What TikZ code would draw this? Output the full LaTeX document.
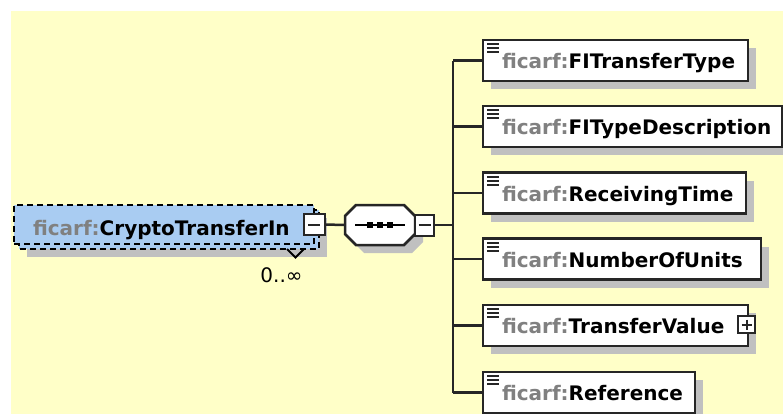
\documentclass[tikz,border=0pt]{standalone}
\usepackage{fontspec}
\setmainfont{DejaVu Sans}
\usetikzlibrary{calc,shadows}

\newdimen\px \px=0.75pt
\definecolor{bgyellow}{HTML}{FFFFC8}
\definecolor{elemblue}{HTML}{A9CCF2}
\definecolor{shadowgray}{HTML}{C0C0C0}
\definecolor{prefixgray}{HTML}{808080}
\definecolor{linegray}{HTML}{262626}
\newcommand{\pfx}{\textcolor{prefixgray}{ficarf:}}

\tikzset{
  conn/.style={draw=linegray, line width=2.5\px},
  elem/.style={draw=linegray, line width=2.5\px, fill=white, anchor=west,
    inner sep=0pt, outer sep=0pt, minimum height=41\px, text width=#1, align=left,
    text height=16.5\px, text depth=0.5\px,
    font=\fontsize{20\px}{23\px}\selectfont\bfseries,
    drop shadow={shadow xshift=8\px, shadow yshift=-8\px, fill=shadowgray, opacity=1}},
  mainbox/.style={draw=black, line width=2.5\px, dash pattern=on 6\px off 4\px,
    fill=elemblue, inner sep=0pt, outer sep=0pt, minimum height=39\px,
    text width=300\px, align=left, text height=21.5\px, text depth=0.5\px,
    font=\fontsize{20\px}{23\px}\selectfont\bfseries},
  togglebox/.style={draw=linegray, fill=white, line width=2\px,
    minimum width=21\px, minimum height=21\px, inner sep=0pt, outer sep=0pt},
  minusbox/.style={togglebox,
    path picture={\draw[line width=2\px]
      ($(path picture bounding box.center)+(-6,0)$) -- ($(path picture bounding box.center)+(6,0)$);}},
  plusbox/.style={togglebox, minimum width=17\px, minimum height=17\px,
    path picture={\draw[line width=2\px]
      ($(path picture bounding box.center)+(-5,0)$) -- ($(path picture bounding box.center)+(5,0)$)
      ($(path picture bounding box.center)+(0,-5)$) -- ($(path picture bounding box.center)+(0,5)$);}},
  iconline/.style={draw=linegray, line width=2\px}
}

\begin{document}
\begin{tikzpicture}[x=0.75pt, y=-0.75pt] % 1 单位 = 1 像素, y 轴向下

    % 1. 背景: 白边和浅黄色区域
    \useasboundingbox (0,0) rectangle (783,414);
    \fill[white] (0,0) rectangle (783,414);
    \fill[bgyellow] (11,11) rectangle (783,414);

    % 2. 主元素 CryptoTransferIn (0..无穷, 两层虚线框)
    \fill[shadowgray] (27,218) rectangle (327,257);
    \draw[mainbox] (19,210) rectangle (319,249);
    \node[mainbox] (ctin) at (164,224.5) {\hspace*{19\px}\pfx CryptoTransferIn};
    \node[minusbox] (ctinmin) at (ctin.east) {};
    \draw[line width=2\px] (287,249) -- (295.5,257.5) -- (304,249);
    \node[anchor=base, font=\fontsize{20\px}{23\px}\selectfont] (occ) at (281.5,282) {0..∞};

    % 3. sequence 组合符 (八边形)
    \fill[shadowgray, shift={(8,8)}] (356,205) -- (404,205) -- (415,216) -- (415,234)
      -- (404,245) -- (356,245) -- (345,234) -- (345,216) -- cycle;
    \draw[line width=2.5\px, draw=linegray, fill=white] (356,205) -- (404,205) -- (415,216)
      -- (415,234) -- (404,245) -- (356,245) -- (345,234) -- (345,216) -- cycle;
    \node[inner sep=0pt, outer sep=0pt, minimum width=70\px, minimum height=40\px] (seq) at (380,225) {};
    \draw[line width=2\px] (355,225) -- (405,225);
    \foreach \sx in {370,380,390}
      \fill (\sx-3,222) rectangle (\sx+3,228);
    \node[minusbox, anchor=west, minimum width=19\px] (seqmin) at (seq.east) {};

    % 4. 连线
    \coordinate (fork) at (453,225);
    \draw[conn] (ctinmin.east) -- (seq.west);
    \draw[conn] (seqmin.east) -- (seqmin.east -| fork);

    % 5. 子元素
    \foreach \nm/\yy/\w/\txt in {ttype/60.5/265/FITransferType, tdesc/126.5/299/FITypeDescription,
        rtime/193/263/ReceivingTime, units/259/278/NumberOfUnits,
        tval/325.5/265/TransferValue, ref/392.5/212/Reference}{
      \node[elem=\w\px] (\nm) at (483,\yy) {\hspace*{19\px}\pfx\txt};
      \foreach \k in {4,8,12}
        \draw[iconline] ($(\nm.north west)+(4,\k)$) -- +(12,0);
      \draw[conn] (fork |- \nm.west) -- (\nm.west);
    }
    \draw[conn] (fork |- ttype.west) -- (fork |- ref.west);
    \node[plusbox] (tvalplus) at ($(tval.east)+(-1.5,-1)$) {};

\end{tikzpicture}
\end{document}
